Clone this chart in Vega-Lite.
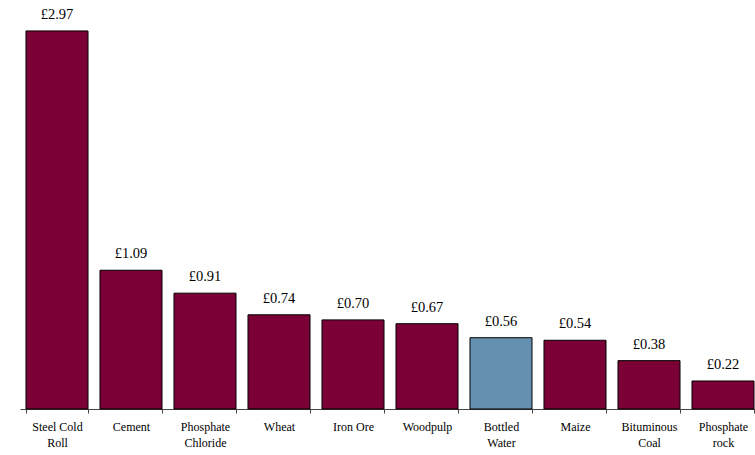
{
  "$schema": "https://vega.github.io/schema/vega-lite/v6.json",
  "width": 740,
  "height": 409,
  "autosize": "none",
  "padding": {"left": 20, "top": 0, "right": 0, "bottom": 46},
  "background": "white",
  "config": {
    "view": {"stroke": null},
    "font": "Liberation Serif",
    "locale": {"number": {"decimal": ".", "thousands": ",", "grouping": [3], "currency": ["£", ""]}}
  },
  "data": {"values": [
    {"item": "Steel Cold Roll", "price": 2.97, "group": "other"},
    {"item": "Cement", "price": 1.09, "group": "other"},
    {"item": "Phosphate Chloride", "price": 0.91, "group": "other"},
    {"item": "Wheat", "price": 0.74, "group": "other"},
    {"item": "Iron Ore", "price": 0.70, "group": "other"},
    {"item": "Woodpulp", "price": 0.67, "group": "other"},
    {"item": "Bottled Water", "price": 0.56, "group": "water"},
    {"item": "Maize", "price": 0.54, "group": "other"},
    {"item": "Bituminous Coal", "price": 0.38, "group": "other"},
    {"item": "Phosphate rock", "price": 0.22, "group": "other"}
  ]},
  "encoding": {
    "x": {
      "field": "item", "type": "nominal", "sort": null,
      "scale": {"paddingInner": 0.162, "paddingOuter": 0.081},
      "axis": {
        "title": null, "labelAngle": 0, "tickBand": "extent",
        "domainColor": "#444", "tickColor": "#444", "tickSize": 4,
        "labelFont": "Liberation Serif", "labelFontSize": 12, "labelColor": "#000",
        "labelPadding": 8, "labelLineHeight": 16,
        "labelExpr": "datum.value == 'Steel Cold Roll' ? ['Steel Cold','Roll'] : datum.value == 'Phosphate Chloride' ? ['Phosphate','Chloride'] : datum.value == 'Bottled Water' ? ['Bottled','Water'] : datum.value == 'Bituminous Coal' ? ['Bituminous','Coal'] : datum.value == 'Phosphate rock' ? ['Phosphate','rock'] : datum.value"
      }
    },
    "y": {
      "field": "price", "type": "quantitative",
      "scale": {"domain": [0, 3.213], "nice": false},
      "axis": null
    }
  },
  "layer": [
    {
      "mark": {"type": "bar", "stroke": "#000", "strokeWidth": 1},
      "encoding": {
        "color": {
          "field": "group", "type": "nominal", "legend": null,
          "scale": {"domain": ["other", "water"], "range": ["#7a0035", "#6690b0"]}
        }
      }
    },
    {
      "mark": {"type": "text", "baseline": "bottom", "dy": -9, "fontSize": 14.5, "font": "Liberation Serif", "color": "#000"},
      "encoding": {
        "text": {"field": "price", "type": "quantitative", "format": "$.2f"}
      }
    }
  ]
}
